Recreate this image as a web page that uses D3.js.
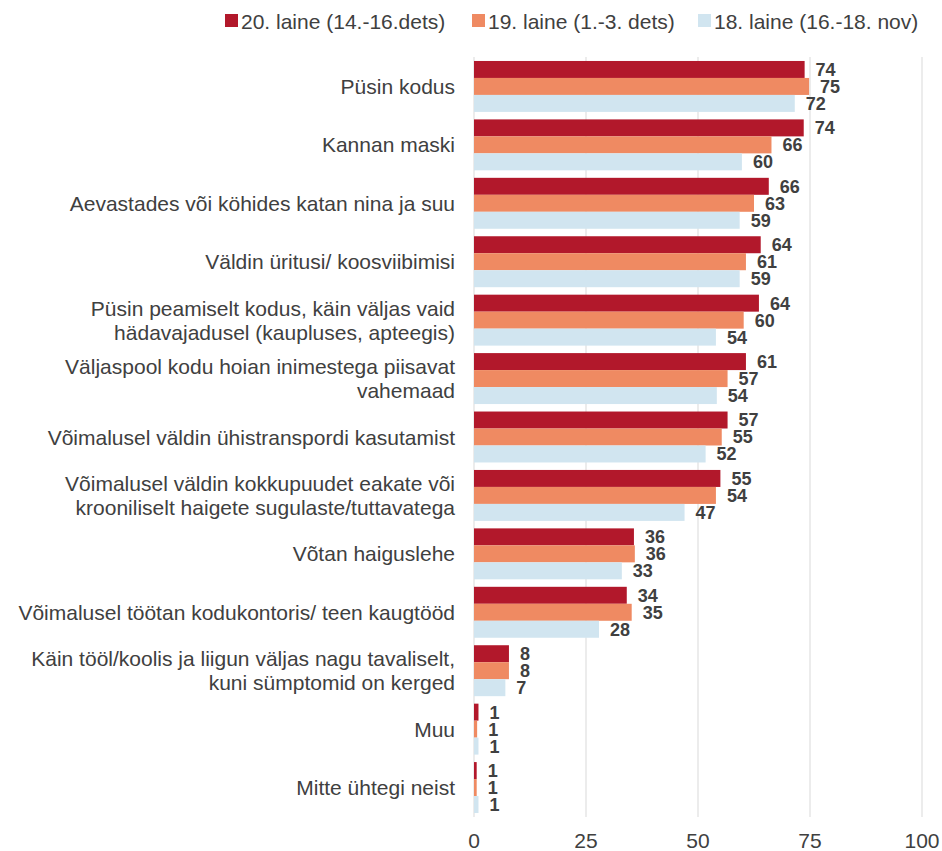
<!DOCTYPE html>
<html>
<head>
<meta charset="utf-8">
<script src="https://cdn.jsdelivr.net/npm/d3@7"></script>
<style>
  body { margin: 0; background: #fff; }
  svg text { font-family: "Liberation Sans", Arial, sans-serif; }
</style>
</head>
<body>
<svg id="chart" width="942" height="851"></svg>
<script>
// categories, line breaks marked with \n
const categories = [
  'Püsin kodus',
  'Kannan maski',
  'Aevastades või köhides katan nina ja suu',
  'Väldin üritusi/ koosviibimisi',
  'Püsin peamiselt kodus, käin väljas vaid\nhädavajadusel (kaupluses, apteegis)',
  'Väljaspool kodu hoian inimestega piisavat\nvahemaad',
  'Võimalusel väldin ühistranspordi kasutamist',
  'Võimalusel väldin kokkupuudet eakate või\nkrooniliselt haigete sugulaste/tuttavatega',
  'Võtan haiguslehe',
  'Võimalusel töötan kodukontoris/ teen kaugtööd',
  'Käin tööl/koolis ja liigun väljas nagu tavaliselt,\nkuni sümptomid on kerged',
  'Muu',
  'Mitte ühtegi neist'
]
const seriesNames = ['20. laine (14.-16.dets)', '19. laine (1.-3. dets)', '18. laine (16.-18. nov)']
const wave20 = [73.8, 73.6, 65.8, 64.0, 63.6, 60.7, 56.6, 55.0, 35.7, 34.1, 7.8, 1.0, 0.6]
const wave19 = [74.8, 66.4, 62.5, 60.7, 60.2, 56.6, 55.3, 54.0, 35.9, 35.2, 7.8, 0.7, 0.6]
const wave18 = [71.6, 59.8, 59.3, 59.3, 54.0, 54.2, 51.7, 47.0, 33.0, 27.9, 7.0, 1.0, 1.0]
const colors = ['#B2182B', '#EF8A62', '#D1E5F0']
const xTicks = [0, 25, 50, 75, 100]

const series = [wave20, wave19, wave18]
const textColor = '#404040'

const svg = d3.select('#chart')
const plotTop = 57, plotBottom = 817

const x = d3.scaleLinear().domain([0, 100]).range([474, 922])
const y = d3.scaleBand().domain(d3.range(categories.length))
  .range([plotTop, plotBottom]).paddingInner(0.128).paddingOuter(0.068)
const ySub = d3.scaleBand().domain(d3.range(series.length)).range([0, y.bandwidth()])

// gridlines
svg.append('g')
  .selectAll('line')
  .data(xTicks)
  .join('line')
  .attr('x1', d => x(d)).attr('x2', d => x(d))
  .attr('y1', plotTop).attr('y2', plotBottom)
  .attr('stroke', '#d9d9d9').attr('stroke-width', 1)

// x tick labels
svg.append('g')
  .selectAll('text')
  .data(xTicks)
  .join('text')
  .attr('x', d => x(d)).attr('y', 840)
  .attr('dy', '0.36em')
  .attr('text-anchor', 'middle')
  .attr('font-size', 21)
  .attr('fill', textColor)
  .text(d => d)

// bars
series.forEach((vals, s) => {
  const g = svg.append('g')
  g.selectAll('rect')
    .data(vals)
    .join('rect')
    .attr('x', x(0))
    .attr('y', (d, i) => y(i) + ySub(s))
    .attr('width', d => x(d) - x(0))
    .attr('height', ySub.bandwidth())
    .attr('fill', colors[s])
  g.selectAll('text')
    .data(vals)
    .join('text')
    .attr('x', d => x(d) + 11)
    .attr('y', (d, i) => y(i) + ySub(s) + ySub.bandwidth() / 2)
    .attr('dy', '0.36em')
    .attr('font-size', 18)
    .attr('font-weight', 'bold')
    .attr('fill', textColor)
    .text(d => Math.round(d))
})

// category labels
const catG = svg.append('g')
categories.forEach((c, i) => {
  const lines = c.split('\n')
  const cy = y(i) + y.bandwidth() / 2
  const lh = 24
  const t = catG.append('text')
    .attr('x', 455)
    .attr('text-anchor', 'end')
    .attr('font-size', 21)
    .attr('fill', textColor)
  lines.forEach((ln, k) => {
    t.append('tspan')
      .attr('x', 455)
      .attr('y', cy + (k - (lines.length - 1) / 2) * lh)
      .attr('dy', '0.36em')
      .text(ln)
  })
})

// legend
const legendX = [225, 472, 698]
const legend = svg.append('g')
seriesNames.forEach((n, i) => {
  legend.append('rect')
    .attr('x', legendX[i]).attr('y', 14)
    .attr('width', 13).attr('height', 13)
    .attr('fill', colors[i])
  legend.append('text')
    .attr('x', legendX[i] + 16).attr('y', 21)
    .attr('dy', '0.36em')
    .attr('font-size', 21)
    .attr('fill', textColor)
    .text(n)
})
</script>
</body>
</html>
